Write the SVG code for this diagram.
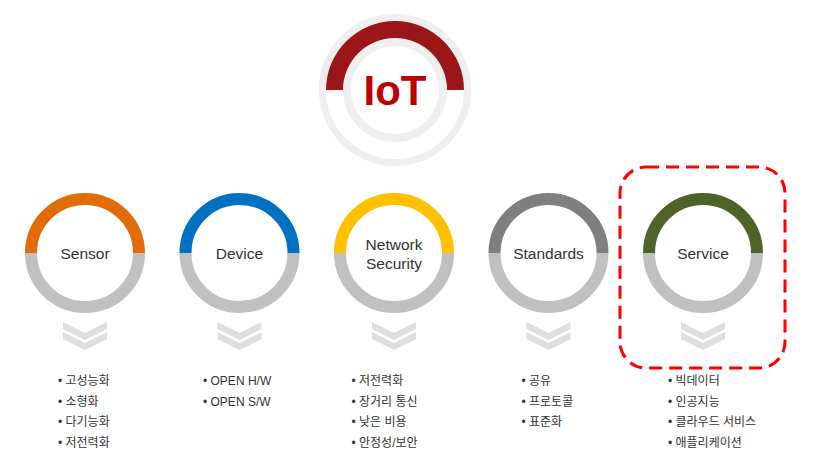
<svg xmlns="http://www.w3.org/2000/svg" width="816" height="472" viewBox="0 0 816 472">
  <defs>
    <style>
      .lbl { font-family: "Liberation Sans", Arial, sans-serif; font-size: 15.5px; fill: #333333; text-anchor: middle; }
      .li { font-family: "Liberation Sans", "Noto Sans CJK KR", sans-serif; font-size: 12px; fill: #333333; }
      .top { fill: none; stroke-width: 12; }
      .bot { fill: none; stroke: #c0c0c0; stroke-width: 12; }
      .chev { fill: #dedede; }
    </style>
    <g id="chevrons">
      <polygon class="chev" points="-22,0 0,11 22,0 22,7 0,18 -22,7"/>
      <polygon class="chev" points="-22,10 0,21 22,10 22,17 0,28 -22,17"/>
    </g>
  </defs>
  <rect width="816" height="472" fill="#ffffff"/>

  <g id="iot">
    <circle cx="395" cy="90" r="72.5" fill="none" stroke="#efefef" stroke-width="7"/>
    <circle cx="395" cy="90" r="48" fill="none" stroke="#efefef" stroke-width="8"/>
    <path d="M326,90 A69,69 0 0 1 464,90 L447,90 A52,52 0 0 0 343,90 Z" fill="#9b1616"/>
    <text x="395" y="105" font-family="Liberation Sans, Arial, sans-serif" font-size="42" font-weight="bold" fill="#c00000" text-anchor="middle">IoT</text>
  </g>

  <g id="sensor">
    <path class="top" stroke="#e36c0a" d="M31,253 A54,54 0 0 1 139,253"/>
    <path class="bot" d="M139,253 A54,54 0 0 1 31,253"/>
    <text class="lbl" x="85" y="259">Sensor</text>
    <use href="#chevrons" x="85" y="322"/>
    <text class="li" x="58" y="385">• 고성능화</text>
    <text class="li" x="58" y="405.5">• 소형화</text>
    <text class="li" x="58" y="426">• 다기능화</text>
    <text class="li" x="58" y="446.5">• 저전력화</text>
  </g>

  <g id="device">
    <path class="top" stroke="#0070c0" d="M185.5,253 A54,54 0 0 1 293.5,253"/>
    <path class="bot" d="M293.5,253 A54,54 0 0 1 185.5,253"/>
    <text class="lbl" x="239.5" y="259">Device</text>
    <use href="#chevrons" x="239.5" y="322"/>
    <text class="li" x="203" y="385">• OPEN H/W</text>
    <text class="li" x="203" y="405.5">• OPEN S/W</text>
  </g>

  <g id="network-security">
    <path class="top" stroke="#ffc000" d="M340,253 A54,54 0 0 1 448,253"/>
    <path class="bot" d="M448,253 A54,54 0 0 1 340,253"/>
    <text class="lbl" x="394" y="250">Network</text>
    <text class="lbl" x="394" y="269">Security</text>
    <use href="#chevrons" x="394" y="322"/>
    <text class="li" x="351.5" y="385">• 저전력화</text>
    <text class="li" x="351.5" y="405.5">• 장거리 통신</text>
    <text class="li" x="351.5" y="426">• 낮은 비용</text>
    <text class="li" x="351.5" y="446.5">• 안정성/보안</text>
  </g>

  <g id="standards">
    <path class="top" stroke="#7f7f7f" d="M494.5,253 A54,54 0 0 1 602.5,253"/>
    <path class="bot" d="M602.5,253 A54,54 0 0 1 494.5,253"/>
    <text class="lbl" x="548.5" y="259">Standards</text>
    <use href="#chevrons" x="548.5" y="322"/>
    <text class="li" x="521.5" y="385">• 공유</text>
    <text class="li" x="521.5" y="405.5">• 프로토콜</text>
    <text class="li" x="521.5" y="426">• 표준화</text>
  </g>

  <g id="service">
    <path class="top" stroke="#4f6228" d="M649,253 A54,54 0 0 1 757,253"/>
    <path class="bot" d="M757,253 A54,54 0 0 1 649,253"/>
    <text class="lbl" x="703" y="259">Service</text>
    <use href="#chevrons" x="703" y="322"/>
    <text class="li" x="668" y="385">• 빅데이터</text>
    <text class="li" x="668" y="405.5">• 인공지능</text>
    <text class="li" x="668" y="426">• 클라우드 서비스</text>
    <text class="li" x="668" y="446.5">• 애플리케이션</text>
  </g>

  <g id="highlight">
    <rect x="620" y="167" width="165" height="201" rx="26" ry="26" fill="none" stroke="#ff0000" stroke-width="3" stroke-dasharray="13 7"/>
  </g>
</svg>
